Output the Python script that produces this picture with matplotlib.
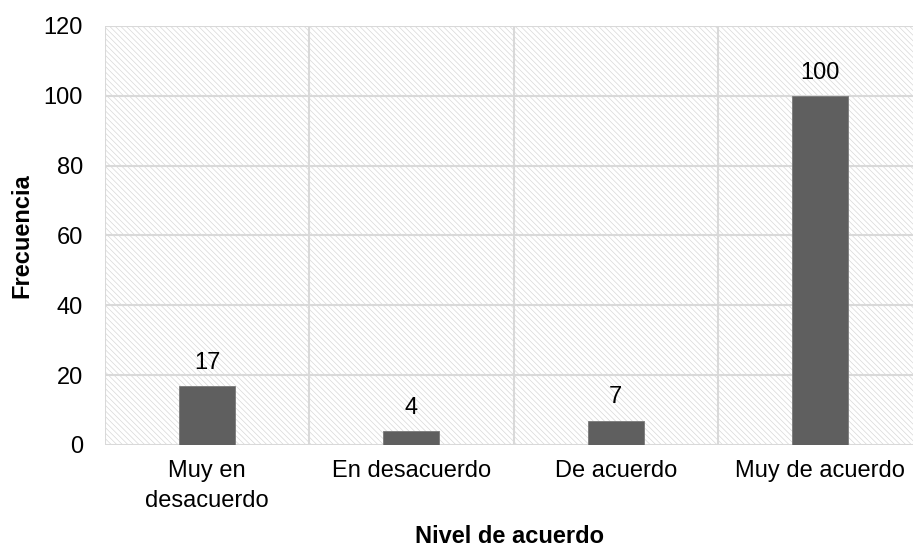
import matplotlib
matplotlib.use("Agg")
import matplotlib.pyplot as plt
from matplotlib.patches import Rectangle
import numpy as np

plt.rcParams['font.family'] = ['Liberation Sans', 'DejaVu Sans']
plt.rcParams['hatch.linewidth'] = 0.5

categories = ["Muy en\ndesacuerdo", "En desacuerdo", "De acuerdo", "Muy de acuerdo"]
values = [17, 4, 7, 100]
yticks = [0, 20, 40, 60, 80, 100, 120]

FS = 17

fig = plt.figure(figsize=(9.13, 5.47), dpi=100)
ax = fig.add_axes([0.115, 0.1865, 0.895, 0.766])

# hatched plot-area background
ax.add_patch(Rectangle((0, 0), 1, 1, transform=ax.transAxes, facecolor='white',
                       edgecolor='#d8d8d8', linewidth=0, hatch='\\\\\\\\\\\\', zorder=0))

x = np.arange(len(categories))
ax.bar(x, values, width=0.274, color='#5f5f5f', edgecolor='#7a7a7a', linewidth=0.6, zorder=3)
for xi, v in zip(x, values):
    ax.text(xi, v + 4.9, str(v), ha='center', va='baseline', fontsize=FS, color='black', zorder=4)

ax.set_xlim(-0.5, len(categories) - 0.5)
ax.set_ylim(0, 120)
ax.set_yticks(yticks)
ax.set_xticks(x)
ax.set_xticklabels(categories, fontsize=FS, linespacing=1.45)
ax.tick_params(axis='y', labelsize=FS, length=0, pad=16)
ax.tick_params(axis='x', length=0, pad=11)

# grid lines
for yv in yticks:
    ax.axhline(yv, color='#d9d9d9', linewidth=1.5, zorder=1)
for b in np.arange(-0.5, len(categories), 1.0):
    ax.axvline(b, color='#d9d9d9', linewidth=1.5, zorder=1)

for s in ax.spines.values():
    s.set_visible(False)

ax.set_ylabel("Frecuencia", fontsize=FS, fontweight='bold')
ax.set_xlabel("Nivel de acuerdo", fontsize=FS, fontweight='bold')
ax.yaxis.set_label_coords(-0.102, 0.5)
ax.yaxis.label.set_va('center')
ax.xaxis.set_label_coords(0.5 - 0.0055, -0.218)
ax.xaxis.label.set_va('center')

fig.savefig("out.png", dpi=100, facecolor='white')
